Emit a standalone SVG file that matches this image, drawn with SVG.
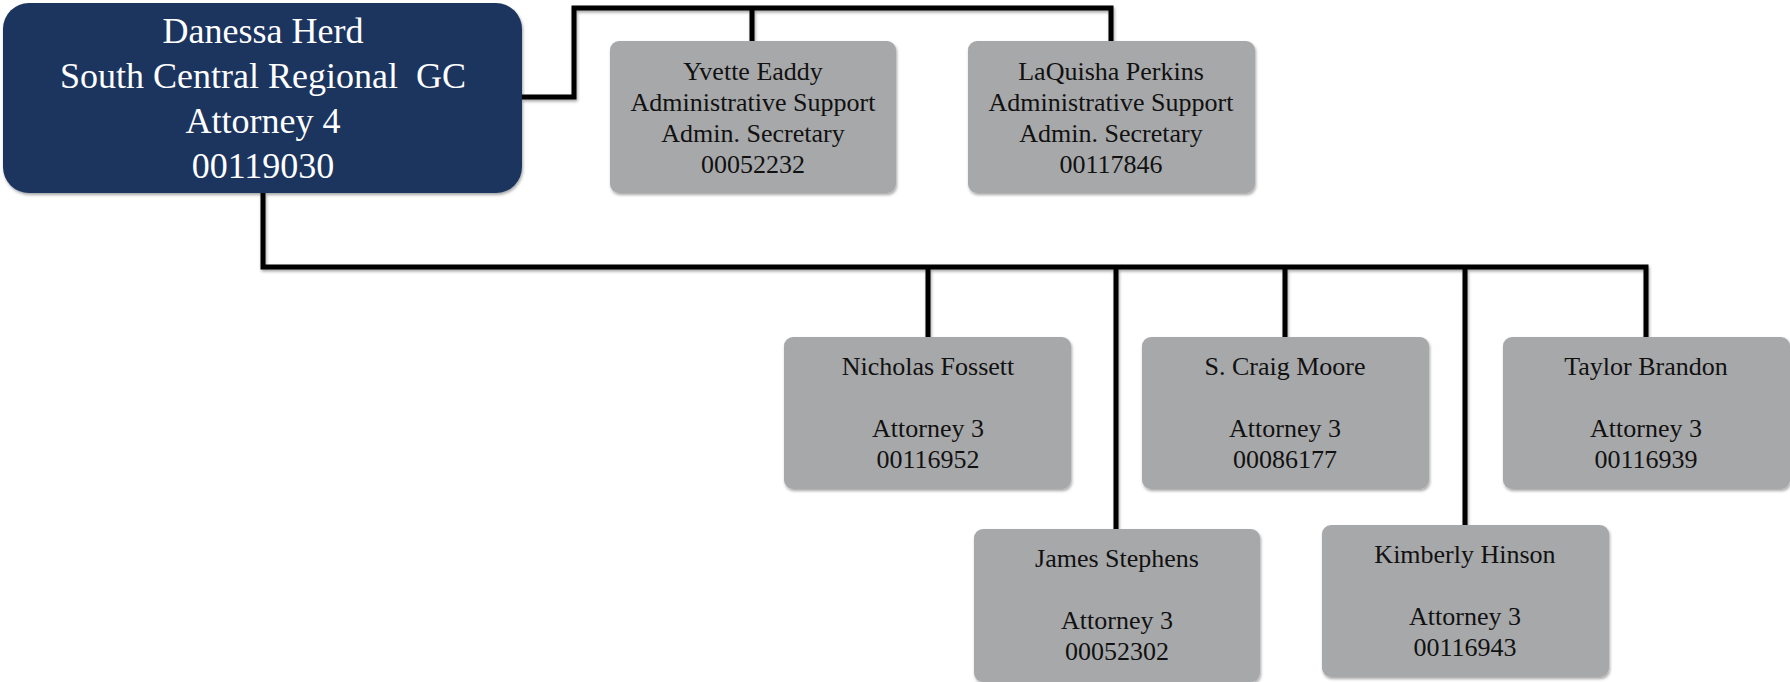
<svg xmlns="http://www.w3.org/2000/svg" width="1790" height="682" viewBox="0 0 1790 682">
<defs>
<filter id="sh" x="-5%" y="-5%" width="110%" height="115%">
<feDropShadow dx="1" dy="2" stdDeviation="1.5" flood-color="#000" flood-opacity="0.35"/>
</filter>
<style>
.lead{fill:#1c365e;}
.box{fill:#a7a8aa;}
.lt{font-family:"Liberation Serif","Times New Roman",serif;font-size:36px;fill:#ffffff;text-anchor:middle;white-space:pre;}
.gt{font-family:"Liberation Serif","Times New Roman",serif;font-size:26px;fill:#111111;text-anchor:middle;}
.con{fill:none;stroke:#000;stroke-width:5;stroke-linejoin:miter;}
</style>
</defs>
<rect width="1790" height="682" fill="#ffffff"/>
<g id="connectors" filter="url(#sh)">
<polyline class="con" points="522,97 574,97 574,8 1111,8 1111,41"/>
<line class="con" x1="752" y1="8" x2="752" y2="41"/>
<polyline class="con" points="263,193 263,267 1646,267 1646,337"/>
<line class="con" x1="928" y1="267" x2="928" y2="337"/>
<line class="con" x1="1116" y1="267" x2="1116" y2="529"/>
<line class="con" x1="1285" y1="267" x2="1285" y2="337"/>
<line class="con" x1="1465" y1="267" x2="1465" y2="525"/>
</g>
<g id="danessa-herd">
<rect class="lead" x="3" y="3" width="519" height="190" rx="26" filter="url(#sh)"/>
<text class="lt" x="263" y="43">Danessa Herd</text>
<text class="lt" x="263" y="88" xml:space="preserve">South Central Regional  GC</text>
<text class="lt" x="263" y="133">Attorney 4</text>
<text class="lt" x="263" y="178">00119030</text>
</g>
<g id="yvette-eaddy">
<rect class="box" x="610" y="41" width="286" height="152" rx="9" filter="url(#sh)"/>
<text class="gt" x="753" y="80">Yvette Eaddy</text>
<text class="gt" x="753" y="111">Administrative Support</text>
<text class="gt" x="753" y="142">Admin. Secretary</text>
<text class="gt" x="753" y="173">00052232</text>
</g>
<g id="laquisha-perkins">
<rect class="box" x="968" y="41" width="287" height="152" rx="9" filter="url(#sh)"/>
<text class="gt" x="1111" y="80">LaQuisha Perkins</text>
<text class="gt" x="1111" y="111">Administrative Support</text>
<text class="gt" x="1111" y="142">Admin. Secretary</text>
<text class="gt" x="1111" y="173">00117846</text>
</g>
<g id="nicholas-fossett">
<rect class="box" x="784" y="337" width="287" height="152" rx="9" filter="url(#sh)"/>
<text class="gt" x="928" y="375">Nicholas Fossett</text>
<text class="gt" x="928" y="437">Attorney 3</text>
<text class="gt" x="928" y="468">00116952</text>
</g>
<g id="s-craig-moore">
<rect class="box" x="1142" y="337" width="287" height="152" rx="9" filter="url(#sh)"/>
<text class="gt" x="1285" y="375">S. Craig Moore</text>
<text class="gt" x="1285" y="437">Attorney 3</text>
<text class="gt" x="1285" y="468">00086177</text>
</g>
<g id="taylor-brandon">
<rect class="box" x="1503" y="337" width="287" height="152" rx="9" filter="url(#sh)"/>
<text class="gt" x="1646" y="375">Taylor Brandon</text>
<text class="gt" x="1646" y="437">Attorney 3</text>
<text class="gt" x="1646" y="468">00116939</text>
</g>
<g id="james-stephens">
<rect class="box" x="974" y="529" width="286" height="153" rx="9" filter="url(#sh)"/>
<text class="gt" x="1117" y="567">James Stephens</text>
<text class="gt" x="1117" y="629">Attorney 3</text>
<text class="gt" x="1117" y="660">00052302</text>
</g>
<g id="kimberly-hinson">
<rect class="box" x="1322" y="525" width="287" height="152" rx="9" filter="url(#sh)"/>
<text class="gt" x="1465" y="563">Kimberly Hinson</text>
<text class="gt" x="1465" y="625">Attorney 3</text>
<text class="gt" x="1465" y="656">00116943</text>
</g>
</svg>
